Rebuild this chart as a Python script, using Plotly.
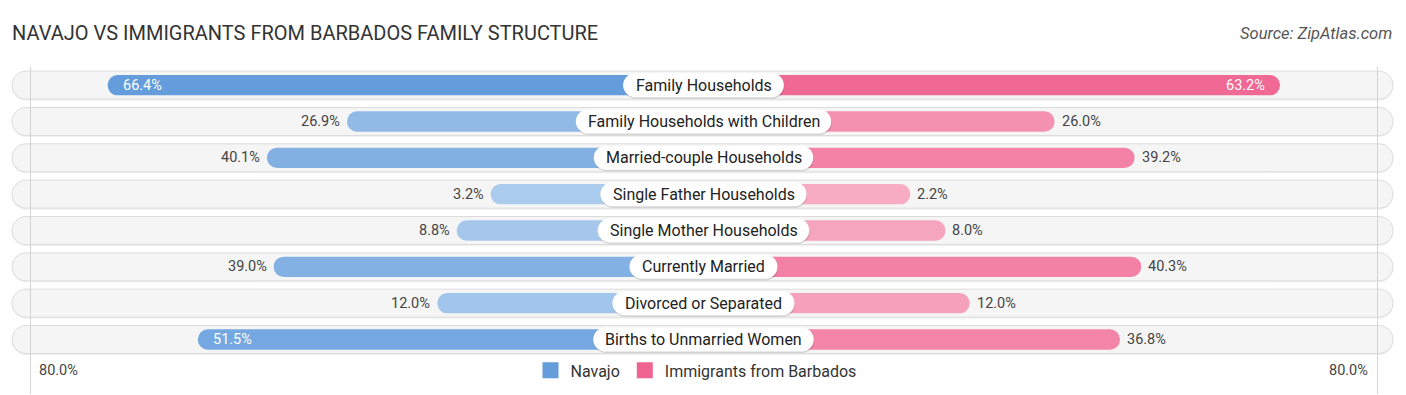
import plotly.graph_objects as go

# ---------------- data ----------------
categories = [
    "Family Households",
    "Family Households with Children",
    "Married-couple Households",
    "Single Father Households",
    "Single Mother Households",
    "Currently Married",
    "Divorced or Separated",
    "Births to Unmarried Women",
]
navajo = [66.4, 26.9, 40.1, 3.2, 8.8, 39.0, 12.0, 51.5]
barbados = [63.2, 26.0, 39.2, 2.2, 8.0, 40.3, 12.0, 36.8]
series_names = ["Navajo", "Immigrants from Barbados"]
axis_max_label = "80.0%"
title_text = "NAVAJO VS IMMIGRANTS FROM BARBADOS FAMILY STRUCTURE"
source_text = "Source: ZipAtlas.com"

# ---------------- geometry / style ----------------
W, H = 1406, 395
CX = 703.5          # pixel position of the centre line
PX = 6.06           # pixels per percentage point
OFF = 193.5 / PX    # bars start under the centre label (offset in % units)
GRID = 673.5 / PX   # position of the faint vertical guide lines
ROW0, ROW_H = 85.0, 36.3
N = len(categories)
rows = list(range(N))
y_lo, y_hi = -0.5, N + 0.5
plot_top = ROW0 + y_lo * ROW_H
plot_bot = ROW0 + y_hi * ROW_H
x_lo, x_hi = -CX / PX, (W - CX) / PX

FONT = "Roboto"
BLUE_D, BLUE_L = (100, 156, 220), (176, 206, 238)
PINK_D, PINK_L = (240, 100, 145), (247, 174, 197)
vmax = max(navajo + barbados)


def mix(c_light, c_dark, t):
    return "rgb(%d,%d,%d)" % tuple(round(l + (d - l) * t) for l, d in zip(c_light, c_dark))


nav_colors = [mix(BLUE_L, BLUE_D, v / vmax) for v in navajo]
bar_colors = [mix(PINK_L, PINK_D, v / vmax) for v in barbados]

# approximate Roboto advance widths (em) for sizing the label pills
CW = {" ": .248, "a": .531, "b": .547, "c": .511, "d": .550, "e": .517, "f": .339, "g": .548,
      "h": .538, "i": .237, "j": .239, "l": .237, "m": .855, "n": .539, "o": .556, "p": .547,
      "r": .331, "s": .504, "t": .320, "u": .538, "v": .472, "w": .738, "y": .461, "-": .270,
      "F": .534, "H": .696, "M": .851, "S": .594, "C": .635, "D": .638, "B": .623, "W": .867,
      "U": .632}
LABEL_FS = 16


def text_w(s, fs):
    return sum(CW.get(ch, .55) for ch in s) * fs


def pill_path(w, h, dx=0.0, dy=0.0):
    r = h / 2.0
    c = 0.5523 * r
    x0, x1 = -w / 2.0 + dx, w / 2.0 + dx
    y0, y1 = -h / 2.0 + dy, h / 2.0 + dy
    ym = dy
    p = [
        f"M{x0 + r},{y0}",
        f"L{x1 - r},{y0}",
        f"C{x1 - r + c},{y0} {x1},{ym - c} {x1},{ym}",
        f"C{x1},{ym + c} {x1 - r + c},{y1} {x1 - r},{y1}",
        f"L{x0 + r},{y1}",
        f"C{x0 + r - c},{y1} {x0},{ym + c} {x0},{ym}",
        f"C{x0},{ym - c} {x0 + r - c},{y0} {x0 + r},{y0}",
        "Z",
    ]
    return " ".join(p)


fig = go.Figure()

# data bars
fig.add_trace(go.Bar(
    y=rows, x=[-(OFF + v) for v in navajo], orientation="h", width=0.56,
    marker=dict(color=nav_colors, cornerradius=10, line=dict(width=0)),
    showlegend=False, hoverinfo="skip", name=series_names[0]))
fig.add_trace(go.Bar(
    y=rows, x=[(OFF + v) for v in barbados], orientation="h", width=0.56,
    marker=dict(color=bar_colors, cornerradius=10, line=dict(width=0)),
    showlegend=False, hoverinfo="skip", name=series_names[1]))

# legend entries
for name, col in zip(series_names, [mix(BLUE_L, BLUE_D, 1), mix(PINK_L, PINK_D, 1)]):
    fig.add_trace(go.Scatter(
        x=[None], y=[None], mode="markers", name=name,
        marker=dict(symbol="square", size=16, color=col, line=dict(width=0))))

shapes = []
annotations = []
for i, cat in enumerate(categories):
    # background pill + its soft shadow
    shapes.append(dict(type="path", xref="x", yref="y", xsizemode="pixel", ysizemode="pixel",
                       xanchor=0, yanchor=i, path=pill_path(1381, 28, dx=-1, dy=-1.5),
                       fillcolor="rgba(0,0,0,0.06)", line=dict(width=0), layer="below"))
    shapes.append(dict(type="path", xref="x", yref="y", xsizemode="pixel", ysizemode="pixel",
                       xanchor=0, yanchor=i, path=pill_path(1381, 28, dx=-1),
                       fillcolor="#f5f5f5", line=dict(color="#dcdcdc", width=1), layer="below"))
    # centre label box + shadow
    lw = text_w(cat, LABEL_FS) + 28
    shapes.append(dict(type="path", xref="x", yref="y", xsizemode="pixel", ysizemode="pixel",
                       xanchor=0, yanchor=i, path=pill_path(lw, 24, dx=0.5, dy=-1.5),
                       fillcolor="rgba(0,0,0,0.13)", line=dict(width=0), layer="above"))
    shapes.append(dict(type="path", xref="x", yref="y", xsizemode="pixel", ysizemode="pixel",
                       xanchor=0, yanchor=i, path=pill_path(lw, 24),
                       fillcolor="#ffffff", line=dict(width=0), layer="above"))
    annotations.append(dict(x=0, y=i, xref="x", yref="y", text=cat, showarrow=False,
                            font=dict(family=FONT, size=LABEL_FS, color="#222"),
                            xanchor="center", yanchor="middle"))

    # value labels: inside (white) for long bars, outside (grey) otherwise
    for v, sign in ((navajo[i], -1), (barbados[i], 1)):
        inside = v >= 50
        if inside:
            xa = "left" if sign < 0 else "right"
            shift = 13 if sign < 0 else -13
        else:
            xa = "right" if sign < 0 else "left"
            shift = -5 if sign < 0 else 5
        annotations.append(dict(
            x=sign * (OFF + v), y=i, xref="x", yref="y", text=f"{v:.1f}%", showarrow=False,
            xanchor=xa, yanchor="middle", xshift=shift,
            font=dict(family=FONT, size=14.5, color="#ffffff" if inside else "#444")))

# axis end labels
for sign, xa, sh in ((-1, "left", 7), (1, "right", -7)):
    annotations.append(dict(x=sign * GRID, y=N - 0.15, xref="x", yref="y", text=axis_max_label,
                            showarrow=False, xanchor=xa, yanchor="middle", xshift=sh,
                            font=dict(family=FONT, size=14.5, color="#444")))

# source
annotations.append(dict(x=1, xref="paper", xshift=-12, y=(plot_bot - 33) / (plot_bot - plot_top),
                        yref="paper", text="<i>" + source_text + "</i>", showarrow=False,
                        xanchor="right", yanchor="middle",
                        font=dict(family=FONT, size=16.5, color="#555")))

fig.update_layout(
    width=W, height=H,
    margin=dict(l=0, r=0, t=plot_top, b=H - plot_bot, pad=0),
    paper_bgcolor="white", plot_bgcolor="white",
    barmode="overlay",
    title=dict(text=title_text, x=12 / W, xanchor="left", xref="container",
               y=1 - 33 / H, yref="container", yanchor="middle",
               font=dict(family=FONT, size=20, color="#333")),
    xaxis=dict(range=[x_lo, x_hi], tickvals=[-GRID, GRID], showticklabels=False,
               showgrid=True, gridcolor="#d4d4d4", gridwidth=1, zeroline=False,
               showline=False, fixedrange=True),
    yaxis=dict(range=[y_hi, y_lo], showticklabels=False, showgrid=False, zeroline=False,
               showline=False, fixedrange=True),
    legend=dict(orientation="h", x=0.5 - 7 / W, xanchor="center",
                y=(plot_bot - 370) / (plot_bot - plot_top), yanchor="middle",
                font=dict(family=FONT, size=16, color="#333"), bgcolor="rgba(0,0,0,0)",
                itemwidth=30, traceorder="normal"),
    shapes=shapes,
    annotations=annotations,
    showlegend=True,
)

fig.write_html("out.html", config={"displayModeBar": False},
               post_script="document.body.style.margin='0';document.body.style.overflow='hidden';")
